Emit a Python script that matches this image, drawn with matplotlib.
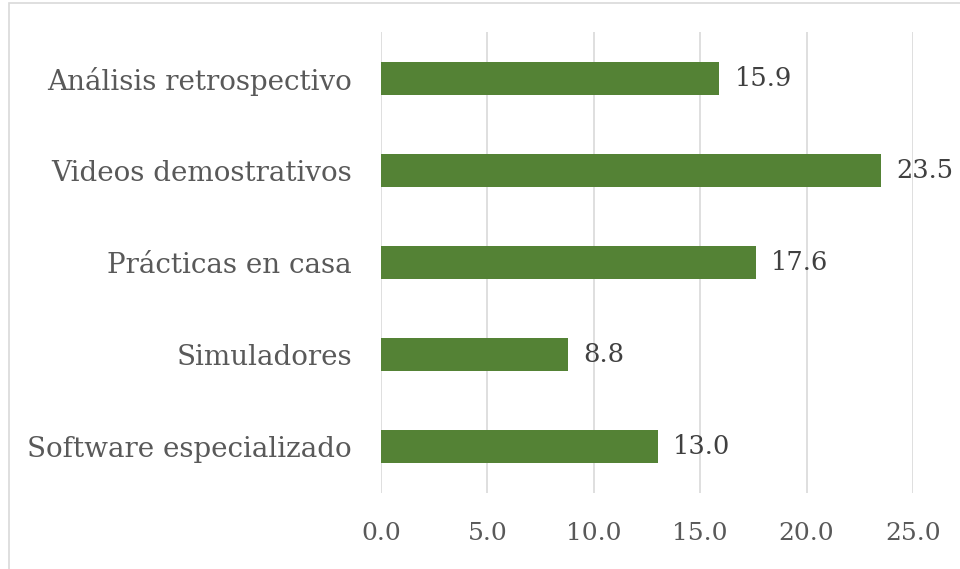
import matplotlib.pyplot as plt
from matplotlib.patches import Rectangle

# data (top to bottom as shown)
categorias = ["Análisis retrospectivo", "Videos demostrativos", "Prácticas en casa",
              "Simuladores", "Software especializado"]
valores = [15.9, 23.5, 17.6, 8.8, 13.0]
ticks = [0, 5, 10, 15, 20, 25]

plt.rcParams["font.family"] = ["DejaVu Serif"]

fig = plt.figure(figsize=(9.6, 5.69), dpi=100)
ax = fig.add_axes([381/960, 1 - 493/569, (913 - 381)/960, (493 - 32)/569])

# outer chart border
fig.patches.append(Rectangle((9/960, -0.05), 1.0, 1 - 3/569 + 0.05, transform=fig.transFigure,
                             fill=False, edgecolor="#d9d9d9", linewidth=1.2))

y = list(range(len(categorias)))[::-1]
ax.barh(y, valores, height=0.36, color="#548235", zorder=3)

for yi, v in zip(y, valores):
    ax.annotate(f"{v:.1f}", (v, yi), xytext=(11, 0), textcoords="offset points",
                va="center", ha="left", fontsize=18.5, color="#404040", zorder=4)

ax.set_xlim(0, 25)
ax.set_ylim(-0.5, len(categorias) - 0.5)
ax.set_xticks(ticks)
ax.set_xticklabels([f"{t:.1f}" for t in ticks])
ax.set_yticks(y)
ax.set_yticklabels(categorias)
ax.tick_params(axis="both", length=0, labelcolor="#595959")
ax.tick_params(axis="x", pad=21, labelsize=18)
ax.tick_params(axis="y", pad=21, labelsize=20)

ax.grid(axis="x", color="#d9d9d9", linewidth=1.2, zorder=0)
for s in ax.spines.values():
    s.set_visible(False)

fig.savefig("out.png", dpi=100)
